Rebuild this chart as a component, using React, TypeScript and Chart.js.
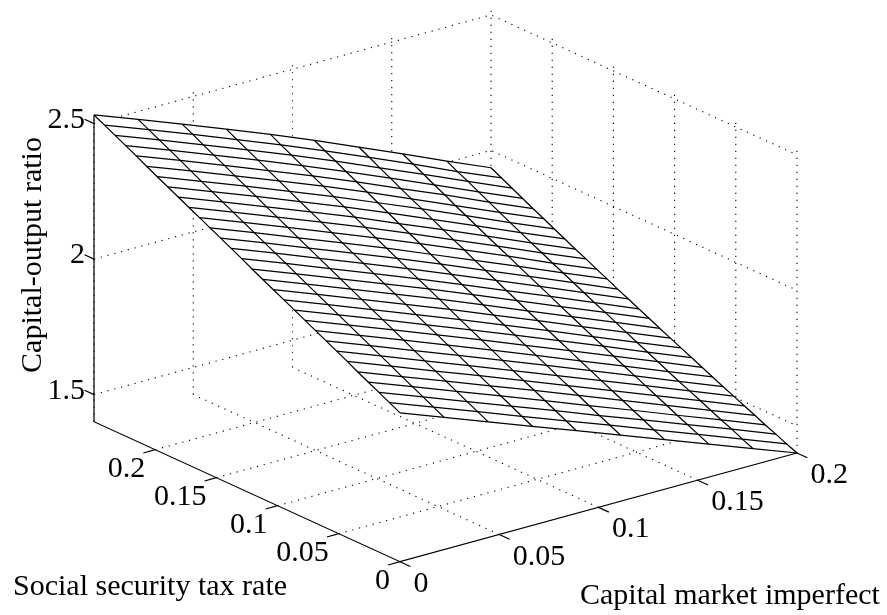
import React, { useEffect, useRef } from "react";
import { Chart, registerables } from "chart.js";

Chart.register(...registerables);

// ---- Data ----
const taxRateLimits = [0, 0.25];
const imperfectionLimits = [0, 0.2];
const ratioLimits = [1.4, 2.532];

const taxTicks = [0, 0.05, 0.1, 0.15, 0.2];
const taxTickLabels = ["0", "0.05", "0.1", "0.15", "0.2"];
const imperfectionTicks = [0, 0.05, 0.1, 0.15, 0.2];
const imperfectionTickLabels = ["0", "0.05", "0.1", "0.15", "0.2"];
const ratioTicks = [1.5, 2, 2.5];
const ratioTickLabels = ["1.5", "2", "2.5"];

const xLabelTax = "Social security tax rate";
const xLabelImperfection = "Capital market imperfect";
const zLabel = "Capital-output ratio";

// Surface: one list per capital-market-imperfection grid line (10 lines),
// each holding the ratio along the 30 tax-rate grid lines.
const ratioImp0 = [1.949,1.969,1.989,2.009,2.029,2.05,2.07,2.09,2.11,2.13,2.15,2.17,2.19,2.21,2.23,2.251,2.271,2.291,2.311,2.331,2.351,2.371,2.391,2.411,2.431,2.452,2.472,2.492,2.512,2.532];
const ratioImp1 = [1.888,1.908,1.928,1.948,1.967,1.988,2.008,2.028,2.048,2.068,2.088,2.108,2.128,2.148,2.168,2.189,2.209,2.229,2.249,2.269,2.289,2.309,2.329,2.349,2.37,2.391,2.411,2.431,2.451,2.471];
const ratioImp2 = [1.827,1.847,1.866,1.886,1.906,1.925,1.945,1.965,1.986,2.006,2.026,2.045,2.065,2.085,2.105,2.125,2.145,2.165,2.185,2.206,2.226,2.246,2.267,2.287,2.307,2.328,2.348,2.368,2.389,2.409];
const ratioImp3 = [1.766,1.785,1.805,1.825,1.844,1.864,1.883,1.903,1.923,1.943,1.962,1.982,2.002,2.022,2.042,2.062,2.082,2.102,2.122,2.142,2.163,2.183,2.203,2.223,2.244,2.264,2.285,2.305,2.325,2.346];
const ratioImp4 = [1.705,1.724,1.744,1.763,1.783,1.801,1.82,1.84,1.86,1.88,1.899,1.919,1.939,1.959,1.979,1.998,2.018,2.038,2.058,2.078,2.099,2.119,2.139,2.159,2.18,2.2,2.22,2.241,2.261,2.282];
const ratioImp5 = [1.644,1.663,1.681,1.7,1.72,1.738,1.757,1.777,1.796,1.815,1.835,1.854,1.873,1.893,1.913,1.932,1.952,1.972,1.991,2.012,2.032,2.051,2.072,2.092,2.113,2.133,2.153,2.174,2.194,2.215];
const ratioImp6 = [1.583,1.601,1.62,1.638,1.657,1.675,1.694,1.713,1.731,1.751,1.77,1.789,1.808,1.827,1.847,1.866,1.886,1.905,1.924,1.945,1.964,1.984,2.004,2.025,2.044,2.064,2.085,2.105,2.126,2.146];
const ratioImp7 = [1.522,1.54,1.558,1.575,1.594,1.612,1.631,1.649,1.667,1.686,1.705,1.723,1.742,1.761,1.78,1.8,1.819,1.838,1.857,1.877,1.896,1.915,1.935,1.955,1.974,1.996,2.015,2.036,2.056,2.076];
const ratioImp8 = [1.461,1.478,1.497,1.513,1.531,1.549,1.567,1.584,1.602,1.621,1.639,1.657,1.676,1.695,1.714,1.732,1.751,1.77,1.789,1.807,1.827,1.846,1.866,1.885,1.905,1.925,1.945,1.966,1.984,2.005];
const ratioImp9 = [1.4,1.416,1.434,1.45,1.468,1.485,1.503,1.52,1.538,1.556,1.574,1.592,1.61,1.628,1.647,1.665,1.684,1.702,1.722,1.74,1.76,1.778,1.798,1.817,1.837,1.856,1.876,1.896,1.916,1.936];

const surfaceColumns = [ratioImp0, ratioImp1, ratioImp2, ratioImp3, ratioImp4, ratioImp5, ratioImp6, ratioImp7, ratioImp8, ratioImp9];

const W = 887;
const H = 615;

// ---- The view: an orthographic projection onto the two linear scales ----
function project(tax: number, imp: number, ratio: number) {
  const t = tax / taxRateLimits[1];
  const m = imp / imperfectionLimits[1];
  return {
    x: 400 - 306 * t + 397 * m,
    y: 561.7 - 140 * t - 108.7 * m - 271 * (ratio - ratioLimits[0]),
  };
}

const gridTax = (i: number) => (taxRateLimits[1] * i) / (surfaceColumns[0].length - 1);
const gridImp = (j: number) => (imperfectionLimits[1] * j) / (surfaceColumns.length - 1);

function line(points: { x: number; y: number }[], extra: Record<string, unknown>) {
  return {
    data: points,
    showLine: true,
    pointRadius: 0,
    pointHoverRadius: 0,
    tension: 0,
    clip: false,
    ...extra,
  };
}

function buildDatasets() {
  const [z0, z1] = ratioLimits;
  const tMax = taxRateLimits[1];
  const mMax = imperfectionLimits[1];
  const sets: any[] = [];

  const dotted = { borderColor: "#000", borderWidth: 1.1, borderDash: [1.2, 5.8], order: 3 };
  const solid = { borderColor: "#000", borderWidth: 1.25, order: 0 };
  const axis = { borderColor: "#000", borderWidth: 1.2, order: 2 };

  // back walls and floor grid
  const wallTax = [...taxTicks, tMax];
  const wallImp = [...imperfectionTicks];
  wallImp.forEach((m) => {
    sets.push(line([project(tMax, m, z0), project(tMax, m, z1)], dotted));
    if (m > 0) sets.push(line([project(0, m, z0), project(tMax, m, z0)], dotted));
  });
  wallTax.forEach((t) => {
    if (t < tMax) sets.push(line([project(t, mMax, z0), project(t, mMax, z1)], dotted));
    if (t > 0 && t < tMax) sets.push(line([project(t, 0, z0), project(t, mMax, z0)], dotted));
  });
  ratioTicks.forEach((r) => {
    sets.push(line([project(tMax, 0, r), project(tMax, mMax, r), project(0, mMax, r)], dotted));
  });

  // axes and tick marks
  sets.push(line([project(tMax, 0, z1), project(tMax, 0, z0), project(0, 0, z0), project(0, mMax, z0)], axis));
  taxTicks.forEach((t) => {
    sets.push(line([project(t, 0, z0), project(t, -0.006, z0)], axis));
  });
  imperfectionTicks.forEach((m) => {
    sets.push(line([project(0, m, z0), project(-0.0085, m, z0)], axis));
  });
  ratioTicks.forEach((r) => {
    sets.push(line([project(tMax, 0, r), project(tMax + 0.0077, 0, r)], axis));
  });

  // white face of the surface, hiding the grid behind it
  const nI = surfaceColumns[0].length;
  const nJ = surfaceColumns.length;
  const outline: { x: number; y: number }[] = [];
  for (let j = 0; j < nJ; j++) outline.push(project(gridTax(0), gridImp(j), surfaceColumns[j][0]));
  for (let i = 1; i < nI; i++) outline.push(project(gridTax(i), gridImp(nJ - 1), surfaceColumns[nJ - 1][i]));
  for (let j = nJ - 2; j >= 0; j--) outline.push(project(gridTax(nI - 1), gridImp(j), surfaceColumns[j][nI - 1]));
  for (let i = nI - 2; i >= 0; i--) outline.push(project(gridTax(i), gridImp(0), surfaceColumns[0][i]));
  sets.push(
    line(outline, { borderColor: "rgba(0,0,0,0)", borderWidth: 0, backgroundColor: "#fff", fill: "shape", order: 1 })
  );

  // mesh
  surfaceColumns.forEach((col, j) => {
    sets.push(line(col.map((r, i) => project(gridTax(i), gridImp(j), r)), solid));
  });
  for (let i = 0; i < nI; i++) {
    sets.push(line(surfaceColumns.map((col, j) => project(gridTax(i), gridImp(j), col[i])), solid));
  }
  return sets;
}

const labelPlugin = {
  id: "axisText",
  afterDraw(chart: any) {
    const { ctx, scales } = chart;
    const px = (p: { x: number; y: number }) => ({ x: scales.x.getPixelForValue(p.x), y: scales.y.getPixelForValue(p.y) });
    const z0 = ratioLimits[0];
    ctx.save();
    ctx.fillStyle = "#000";
    ctx.font = '30px "Liberation Serif"';
    ctx.textBaseline = "alphabetic";

    ctx.textAlign = "right";
    taxTicks.forEach((t, k) => {
      const p = px(project(t, 0, z0));
      ctx.fillText(taxTickLabels[k], p.x - 10, p.y + 27);
    });
    ctx.textAlign = "left";
    imperfectionTicks.forEach((m, k) => {
      const p = px(project(0, m, z0));
      ctx.fillText(imperfectionTickLabels[k], p.x + 13.5, p.y + 30);
    });
    ctx.textAlign = "right";
    ratioTicks.forEach((r, k) => {
      const p = px(project(taxRateLimits[1], 0, r));
      ctx.fillText(ratioTickLabels[k], p.x - 9, p.y + 4);
    });

    ctx.textAlign = "left";
    ctx.fillText(xLabelTax, 13, 595);
    ctx.fillText(xLabelImperfection, 580, 604);

    ctx.translate(41, 255);
    ctx.rotate(-Math.PI / 2);
    ctx.textAlign = "center";
    ctx.fillText(zLabel, 0, 0);
    ctx.restore();
  },
};

export default function App() {
  const ref = useRef<HTMLCanvasElement>(null);
  useEffect(() => {
    document.body.style.margin = "0";
    const chart = new Chart(ref.current as HTMLCanvasElement, {
      type: "scatter",
      data: { datasets: buildDatasets() },
      options: {
        animation: false,
        responsive: false,
        layout: { padding: 0 },
        plugins: { legend: { display: false }, tooltip: { enabled: false }, title: { display: false } },
        scales: {
          x: { type: "linear", min: 0, max: W, display: false },
          y: { type: "linear", min: 0, max: H, reverse: true, display: false },
        },
      },
      plugins: [labelPlugin],
    } as any);
    return () => chart.destroy();
  }, []);
  return <canvas ref={ref} width={W} height={H} style={{ display: "block", width: W, height: H }} />;
}
